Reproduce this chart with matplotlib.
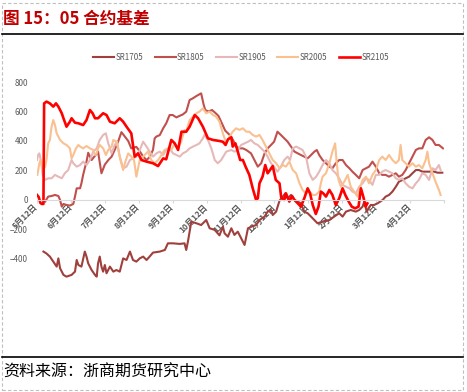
import matplotlib
matplotlib.use('Agg')
import matplotlib.pyplot as plt
from matplotlib.lines import Line2D
from matplotlib.patches import Rectangle

plt.rcParams['font.family'] = ['Noto Sans CJK SC', 'DejaVu Sans']

# x positions are months after 5月12日 (0 = 5月12日, 11 = 4月12日)
month_labels = ['5月12日', '6月12日', '7月12日', '8月12日', '9月12日', '10月12日',
                '11月12日', '12月12日', '1月12日', '2月12日', '3月12日', '4月12日']

sr1705_x = [0.19, 0.28, 0.38, 0.48, 0.58, 0.63, 0.68, 0.78, 0.87, 1.02,
            1.12, 1.17, 1.22, 1.31, 1.41, 1.46, 1.51, 1.61, 1.71, 1.76,
            1.80, 1.85, 1.90, 1.95, 2.00, 2.05, 2.15, 2.25, 2.34, 2.44,
            2.54, 2.64, 2.74, 2.83, 2.93, 3.03, 3.13, 3.23, 3.32, 3.42,
            3.62, 3.77, 3.86, 4.01, 4.21, 4.35, 4.40, 4.45, 4.55, 4.70,
            4.84, 4.99, 5.09, 5.24, 5.38, 5.48, 5.53, 5.63, 5.73, 5.82,
            5.92, 6.02, 6.12, 6.22, 6.32, 6.46, 6.56, 6.71, 6.80, 6.90,
            6.95, 7.05, 7.15, 7.25, 7.32, 7.39, 7.49, 7.59, 7.69, 7.78,
            7.88, 7.98, 8.08, 8.27, 8.42, 8.62, 8.76, 8.91, 9.01, 9.11,
            9.25, 9.40, 9.50, 9.60, 9.65, 9.72, 9.84, 9.94, 10.04, 10.19,
            10.28, 10.38, 10.48, 10.58, 10.67, 10.77, 10.87, 10.97, 11.07, 11.17,
            11.26, 11.36, 11.56, 11.71, 11.81, 11.95]
sr1705_y = [-350, -363, -384, -418, -452, -396, -463, -508, -520, -508,
            -486, -407, -441, -452, -350, -384, -430, -475, -508, -520,
            -430, -384, -452, -486, -441, -497, -452, -486, -475, -486,
            -396, -407, -350, -407, -418, -396, -384, -407, -384, -357,
            -350, -339, -294, -294, -298, -294, -339, -282, -147, -158,
            -170, -136, -192, -203, -240, -181, -226, -249, -192, -237,
            -215, -260, -305, -192, -181, -170, -136, -113, -79, -68,
            -102, -79, -5, 23, 45, 11, 34, 0, -11, -23,
            -79, -90, -113, -158, -147, -136, -113, -90, -113, -79,
            -68, -79, -68, -45, -11, -79, -34, -34, -23, 0,
            23, 34, 57, 90, 124, 135, 147, 158, 181, 203,
            203, 192, 192, 192, 185, 185]

sr1805_x = [0.24, 0.33, 0.43, 0.53, 0.63, 0.68, 0.73, 0.78, 0.87, 0.97,
            1.07, 1.12, 1.17, 1.27, 1.31, 1.36, 1.41, 1.46, 1.51, 1.61,
            1.71, 1.80, 1.90, 2.00, 2.10, 2.20, 2.29, 2.39, 2.49, 2.59,
            2.69, 2.78, 2.93, 3.03, 3.13, 3.23, 3.32, 3.42, 3.47, 3.52,
            3.62, 3.72, 3.81, 3.91, 4.00, 4.11, 4.20, 4.30, 4.40, 4.50,
            4.60, 4.70, 4.84, 4.91, 4.96, 5.06, 5.16, 5.26, 5.35, 5.45,
            5.55, 5.68, 5.78, 5.87, 5.97, 6.07, 6.17, 6.31, 6.41, 6.51,
            6.61, 6.71, 6.80, 6.90, 6.99, 7.09, 7.19, 7.29, 7.39, 7.49,
            7.59, 7.69, 7.78, 7.88, 7.98, 8.08, 8.18, 8.25, 8.32, 8.42,
            8.52, 8.62, 8.71, 8.81, 8.91, 9.01, 9.11, 9.21, 9.30, 9.40,
            9.50, 9.60, 9.70, 9.79, 9.89, 9.99, 10.09, 10.18, 10.28, 10.38,
            10.48, 10.58, 10.67, 10.77, 10.87, 10.97, 11.07, 11.17, 11.26, 11.36,
            11.46, 11.56, 11.66, 11.75, 11.85, 11.97]
sr1805_y = [-11, 23, 27, 34, 27, 0, -45, -27, -34, -38,
            -27, 23, 79, 79, 113, 170, 216, 260, 320, 271,
            300, 328, 181, 240, 270, 294, 339, 395, 460, 430,
            400, 350, 360, 330, 294, 271, 290, 340, 418, 430,
            440, 486, 520, 576, 576, 560, 570, 580, 599, 678,
            690, 705, 723, 650, 610, 600, 610, 590, 570, 520,
            470, 441, 407, 362, 350, 350, 339, 316, 271, 226,
            249, 316, 350, 373, 395, 463, 441, 418, 395, 362,
            328, 316, 305, 294, 282, 305, 328, 339, 305, 271,
            249, 226, 215, 249, 271, 271, 237, 215, 192, 170,
            147, 203, 215, 226, 260, 226, 181, 170, 170, 158,
            170, 181, 158, 170, 203, 249, 294, 339, 350, 350,
            407, 425, 407, 373, 373, 350]

sr1905_x = [0.00, 0.03, 0.07, 0.11, 0.17, 0.24, 0.33, 0.43, 0.53, 0.63,
            0.73, 0.82, 0.92, 1.02, 1.07, 1.17, 1.27, 1.36, 1.46, 1.56,
            1.66, 1.76, 1.85, 1.95, 2.03, 2.10, 2.20, 2.29, 2.36, 2.44,
            2.54, 2.64, 2.74, 2.83, 2.93, 3.03, 3.13, 3.23, 3.32, 3.42,
            3.52, 3.62, 3.72, 3.81, 3.91, 4.01, 4.11, 4.21, 4.30, 4.40,
            4.50, 4.60, 4.70, 4.79, 4.89, 4.94, 5.04, 5.14, 5.24, 5.33,
            5.43, 5.58, 5.73, 5.82, 5.92, 6.02, 6.12, 6.22, 6.31, 6.41,
            6.51, 6.61, 6.71, 6.80, 6.90, 6.99, 7.09, 7.19, 7.29, 7.39,
            7.46, 7.54, 7.64, 7.74, 7.83, 7.93, 8.03, 8.13, 8.23, 8.32,
            8.42, 8.52, 8.62, 8.71, 8.81, 8.91, 9.01, 9.11, 9.21, 9.30,
            9.40, 9.50, 9.60, 9.70, 9.79, 9.89, 9.99, 10.09, 10.18, 10.28,
            10.38, 10.48, 10.58, 10.67, 10.77, 10.87, 10.97, 11.07, 11.17, 11.26,
            11.36, 11.46, 11.56, 11.66, 11.75, 11.85, 11.90]
sr1905_y = [271, 305, 316, 271, 170, 136, 147, 147, 170, 158,
            147, 181, 203, 271, 249, 226, 237, 260, 237, 271,
            328, 350, 407, 441, 452, 384, 316, 373, 395, 294,
            215, 226, 271, 282, 294, 339, 395, 362, 328, 294,
            316, 328, 305, 339, 350, 316, 305, 294, 316, 328,
            350, 362, 373, 384, 418, 441, 407, 350, 271, 249,
            271, 328, 339, 328, 339, 373, 384, 395, 407, 384,
            373, 350, 328, 294, 249, 226, 192, 226, 271, 294,
            271, 350, 362, 350, 339, 294, 181, 136, 158, 192,
            237, 271, 249, 203, 181, 147, 102, 90, 79, 57,
            45, 90, 113, 147, 136, 102, 170, 170, 192, 203,
            192, 181, 147, 136, 147, 113, 90, 79, 113, 136,
            181, 170, 136, 215, 203, 237, 203]

sr2005_x = [0.01, 0.07, 0.11, 0.17, 0.24, 0.28, 0.33, 0.38, 0.43, 0.48,
            0.53, 0.58, 0.68, 0.78, 0.87, 0.97, 1.02, 1.07, 1.15, 1.22,
            1.27, 1.36, 1.46, 1.56, 1.66, 1.71, 1.76, 1.80, 1.85, 1.95,
            2.03, 2.10, 2.20, 2.25, 2.34, 2.39, 2.46, 2.54, 2.62, 2.69,
            2.78, 2.86, 2.93, 3.03, 3.13, 3.27, 3.37, 3.47, 3.57, 3.67,
            3.76, 3.86, 3.96, 4.06, 4.16, 4.25, 4.35, 4.40, 4.50, 4.60,
            4.70, 4.79, 4.89, 4.99, 5.09, 5.19, 5.28, 5.38, 5.48, 5.58,
            5.68, 5.77, 5.87, 5.97, 6.07, 6.17, 6.26, 6.36, 6.46, 6.56,
            6.65, 6.75, 6.85, 6.95, 7.05, 7.15, 7.25, 7.34, 7.44, 7.54,
            7.64, 7.74, 7.83, 7.93, 8.03, 8.13, 8.22, 8.32, 8.37, 8.42,
            8.52, 8.62, 8.71, 8.79, 8.83, 8.89, 8.96, 9.06, 9.16, 9.25,
            9.35, 9.45, 9.50, 9.60, 9.70, 9.79, 9.89, 9.99, 10.09, 10.18,
            10.28, 10.38, 10.48, 10.58, 10.67, 10.72, 10.77, 10.87, 10.97, 11.07,
            11.17, 11.26, 11.36, 11.46, 11.51, 11.56, 11.66, 11.75, 11.85, 11.90]
sr2005_y = [170, 249, 271, 203, 226, 271, 384, 407, 497, 542,
            508, 452, 407, 384, 373, 350, 282, 305, 350, 373,
            362, 350, 366, 350, 339, 305, 316, 350, 373, 350,
            305, 339, 362, 407, 395, 350, 271, 203, 271, 316,
            294, 271, 158, 271, 294, 328, 271, 249, 271, 305,
            339, 350, 339, 384, 350, 395, 475, 463, 542, 565,
            588, 599, 621, 588, 599, 576, 565, 531, 452, 384,
            430, 463, 486, 475, 486, 463, 463, 441, 430, 441,
            407, 362, 316, 271, 249, 215, 237, 226, 260, 203,
            181, 113, 68, 45, 57, 34, 34, 57, 113, 158,
            181, 249, 328, 384, 271, 136, 90, 124, 170, 90,
            57, 23, 68, 136, 158, 113, 170, 203, 271, 294,
            271, 305, 271, 249, 271, 373, 271, 249, 226, 249,
            226, 237, 215, 271, 328, 249, 181, 124, 68, 34]

sr2105_x = [0.00, 0.05, 0.10, 0.14, 0.19, 0.21, 0.28, 0.38, 0.48, 0.56,
            0.63, 0.73, 0.78, 0.87, 0.97, 1.02, 1.12, 1.22, 1.36, 1.46,
            1.56, 1.64, 1.71, 1.80, 1.95, 2.05, 2.15, 2.29, 2.44, 2.54,
            2.64, 2.78, 2.88, 2.98, 3.08, 3.23, 3.42, 3.57, 3.72, 3.81,
            3.96, 4.06, 4.16, 4.26, 4.40, 4.50, 4.65, 4.75, 4.89, 5.04,
            5.19, 5.38, 5.48, 5.56, 5.63, 5.73, 5.77, 5.85, 5.92, 5.99,
            6.07, 6.15, 6.26, 6.36, 6.46, 6.51, 6.56, 6.65, 6.73, 6.80,
            6.87, 6.95, 7.04, 7.15, 7.20, 7.29, 7.34, 7.44, 7.52, 7.59,
            7.69, 7.78, 7.88, 7.98, 8.05, 8.13, 8.22, 8.30, 8.37, 8.44,
            8.52, 8.62, 8.71, 8.81, 8.91, 9.01, 9.09, 9.19, 9.28, 9.38,
            9.48, 9.55, 9.62, 9.69, 9.74]
sr2105_y = [34, 20, -20, -27, -27, 655, 667, 655, 633, 655,
            633, 588, 554, 497, 531, 554, 524, 520, 508, 542,
            610, 588, 554, 554, 588, 576, 531, 520, 554, 531,
            497, 452, 294, 316, 271, 260, 249, 230, 282, 276,
            407, 384, 339, 463, 463, 497, 576, 554, 497, 418,
            407, 400, 395, 373, 411, 425, 362, 384, 328, 271,
            271, 226, 170, 79, 0, 11, 113, 158, 237, 181,
            203, 230, 136, 113, 18, 0, 45, -11, 27, 0,
            -23, -45, 11, 79, 45, -34, -95, -45, 57, 45,
            23, 68, 34, -34, 11, 79, 34, -11, -45, -57,
            -45, 79, 23, -45, -23]

series = [
    ('SR1705', sr1705_x, sr1705_y, '#A0403D', 1.5),
    ('SR1805', sr1805_x, sr1805_y, '#C0504D', 1.5),
    ('SR1905', sr1905_x, sr1905_y, '#E6B9B8', 1.5),
    ('SR2005', sr2005_x, sr2005_y, '#FAC090', 1.5),
    ('SR2105', sr2105_x, sr2105_y, '#FF0000', 1.9),
]

W, H = 467, 392
fig = plt.figure(figsize=(W / 100, H / 100), dpi=100)

ax = fig.add_axes([37 / W, 1 - 279.6 / H, (444 - 37) / W, (279.6 - 82) / H])
handles = []
for name, xs, ys, color, lw in series:
    ln, = ax.plot(xs, ys, color=color, linewidth=lw, label=name, solid_joinstyle='round')
    handles.append(ln)

ax.set_xlim(0, 12)
ax.set_ylim(-540, 800)
ax.set_yticks(range(-400, 801, 200))
ax.set_xticks(range(0, 13))
ax.set_xticklabels(month_labels + [''])

for s in ['top', 'right', 'left']:
    ax.spines[s].set_visible(False)
ax.spines['bottom'].set_position(('data', 0))
ax.spines['bottom'].set_color('#D9D9D9')
ax.spines['bottom'].set_linewidth(0.8)

ax.tick_params(axis='y', length=0, pad=6.5, labelsize=5.8, labelcolor='#595959')
ax.tick_params(axis='x', direction='out', length=2.5, width=0.8, color='#D9D9D9',
               pad=1.5, labelsize=6.0, labelcolor='#595959')
for lab in ax.get_xticklabels():
    lab.set_rotation(45)
    lab.set_ha('right')
    lab.set_va('center')
    lab.set_rotation_mode('anchor')
    lab.set_fontweight('bold')

leg = fig.legend(handles=handles, loc='center', bbox_to_anchor=(241 / W, 1 - 57 / H),
                 ncol=5, frameon=False, fontsize=5.8, handlelength=2.6,
                 handletextpad=0.2, columnspacing=1.4)
for t in leg.get_texts():
    t.set_color('#595959')

# title, rules and source note
fig.text(3 / W, 1 - 19 / H, '图 15：05 合约基差', fontsize=12, fontweight='bold',
         color='#C00000', ha='left', va='center')
fig.add_artist(Line2D([2 / W, 463 / W], [1 - 34 / H, 1 - 34 / H], color='black', linewidth=1.2))
fig.add_artist(Line2D([2 / W, 463 / W], [1 - 357 / H, 1 - 357 / H], color='black', linewidth=1.2))
fig.text(3 / W, 1 - 372 / H, '资料来源：浙商期货研究中心', fontsize=11.5,
         color='black', ha='left', va='center')
fig.add_artist(Rectangle((2 / W, 2.5 / H), 460.5 / W, 387 / H, fill=False,
                         edgecolor='#BFBFBF', linewidth=0.8, linestyle=(0, (3, 2))))

fig.savefig('out.png', dpi=100)
